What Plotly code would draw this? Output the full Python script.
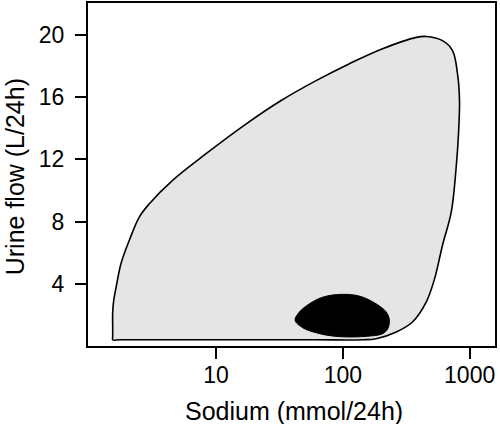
import plotly.graph_objects as go

# Grey region boundary (sodium mmol/24h, urine flow L/24h), traced from bottom-left corner
region_sodium = [1.53, 1.53, 1.53, 1.53, 1.56, 1.63, 1.78, 2.07, 2.48, 2.98, 4.54, 8.34, 17.3, 32.6, 61.5,
                 112.7, 205.6, 379, 454, 611, 733, 802, 832, 817, 783, 716, 611, 528,
                 454, 354, 264, 183, 143, 60, 10, 1.75, 1.53]
region_flow = [0.40, 0.60, 1.20, 2.18, 2.95, 3.80, 5.30, 6.80, 8.29, 9.15, 10.65, 12.36, 14.28, 15.78, 17.06,
               18.15, 19.11, 19.84, 19.90, 19.63, 18.99, 17.51, 15.78, 13.66, 11.49, 8.60, 6.48, 4.30,
               2.82, 1.54, 0.90, 0.47, 0.40, 0.40, 0.40, 0.40, 0.40]

# Black blob boundary
blob_sodium = [42.0, 45.4, 54.4, 69.4, 97, 135, 183, 220, 233, 226, 206, 153, 113, 83, 61.5, 48.3, 42.0]
blob_flow = [1.65, 2.18, 2.71, 3.14, 3.32, 3.21, 2.71, 2.18, 1.65, 1.11, 0.79, 0.62, 0.58, 0.64, 0.85, 1.17, 1.65]

x_ticks = [10, 100, 1000]
x_ticklabels = ["10", "100", "1000"]
y_ticks = [4, 8, 12, 16, 20]
y_ticklabels = ["4", "8", "12", "16", "20"]

x_title = "Sodium (mmol/24h)"
y_title = "Urine flow (L/24h)"

FS = 23
TS = 25
fig = go.Figure()
fig.add_trace(go.Scatter(
    x=region_sodium, y=region_flow, mode="lines", fill="toself",
    fillcolor="#e5e5e5", line=dict(color="black", width=1.6, shape="spline", smoothing=1.0),
    hoverinfo="skip", showlegend=False))
fig.add_trace(go.Scatter(
    x=blob_sodium, y=blob_flow, mode="lines", fill="toself",
    fillcolor="black", line=dict(color="black", width=1, shape="spline", smoothing=1.0),
    hoverinfo="skip", showlegend=False))

font = dict(family="Liberation Sans, Arial, Helvetica, sans-serif", color="black")
axis_common = dict(showgrid=False, zeroline=False, showline=True, linecolor="black", linewidth=2,
                   mirror=True, ticks="outside", ticklen=11, tickwidth=1.5, tickcolor="black",
                   tickfont=dict(size=FS), automargin=False)
fig.update_layout(
    width=500, height=424,
    margin=dict(l=88, r=5, t=3, b=78),
    paper_bgcolor="white", plot_bgcolor="white",
    font=font,
    xaxis=dict(type="log", range=[-0.01, 3.2], tickvals=x_ticks, ticktext=x_ticklabels,
               ticklabelstandoff=-4, **axis_common),
    yaxis=dict(range=[0, 22.05], tickvals=y_ticks, ticktext=y_ticklabels,
               ticklabelstandoff=6, **axis_common),
    annotations=[
        dict(text=x_title, xref="paper", yref="paper", x=0.506, y=-0.19, xanchor="center",
             yanchor="middle", showarrow=False, font=dict(size=TS)),
        dict(text=y_title, xref="paper", yref="paper", x=-0.18, y=0.494, xanchor="center",
             yanchor="middle", textangle=-90, showarrow=False, font=dict(size=TS)),
    ],
)

fig.write_html("out.html", config={"displayModeBar": False},
               post_script="document.body.style.margin='0px';document.body.style.overflow='hidden';")
